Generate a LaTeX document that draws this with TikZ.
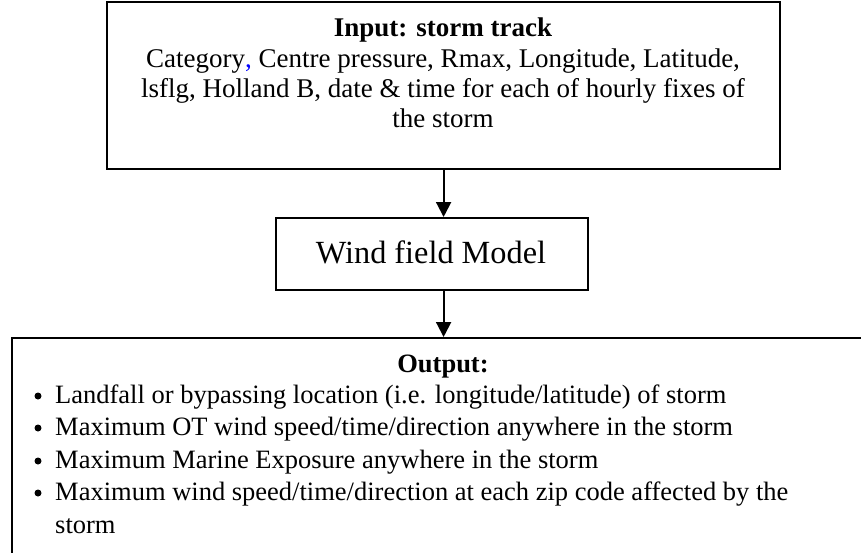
\documentclass[tikz,border=0pt]{standalone}
\usepackage{fontspec}
\setmainfont{Liberation Serif}
\usetikzlibrary{arrows.meta}
\begin{document}
\begin{tikzpicture}[x=1pt,y=-1pt,
  box/.style={draw, line width=2.2pt, inner sep=0pt, anchor=north west},
  txt/.style={font=\fontsize{27}{30}\selectfont, inner sep=0pt, anchor=base},
  btxt/.style={font=\fontsize{26.5}{30}\selectfont, inner sep=0pt, anchor=base west},
  dot/.style={circle, fill, inner sep=0pt, minimum size=7pt},
  conn/.style={line width=2pt, -{Triangle[width=15pt,length=15pt]}}]
\useasboundingbox (0,0) rectangle (861,552);
\clip (0,0) rectangle (861,552);
% boxes
\node[box, minimum width=673pt, minimum height=167pt] (in) at (106,1) {};
\node[box, minimum width=312pt, minimum height=72pt] (mid) at (275,217) {};
\node[box, minimum width=900pt, minimum height=300pt] (out) at (11,337) {};
% top text
\node[txt, font=\fontsize{27}{30}\selectfont\bfseries] (t0) at (443,36) {Input: storm track};
\node[txt] (t1) at (443,67) {Category{\color{blue},} Centre pressure, Rmax, Longitude, Latitude,};
\node[txt] (t2) at (443,97) {lsflg, Holland B, date \& time for each of hourly fixes of};
\node[txt] (t3) at (443,127) {the storm};
% middle text
\node[txt, font=\fontsize{32.3}{36}\selectfont] (m0) at (431,263) {Wind field Model};
% bottom text
\node[txt, font=\fontsize{26.5}{30}\selectfont\bfseries] (o0) at (443,372) {Output:};
\node[dot] (b1) at (38,396) {};
\node[btxt] (l1) at (55,403) {Landfall or bypassing location (i.e. longitude/latitude) of storm};
\node[dot] (b2) at (38,428) {};
\node[btxt] (l2) at (55,435) {Maximum OT wind speed/time/direction anywhere in the storm};
\node[dot] (b3) at (38,461) {};
\node[btxt] (l3) at (55,468) {Maximum Marine Exposure anywhere in the storm};
\node[dot] (b4) at (38,493) {};
\node[btxt] (l4) at (55,500) {Maximum wind speed/time/direction at each zip code affected by the};
\node[btxt] (l5) at (55,533) {storm};
% connectors
\draw[conn] (in.south) -- (in.south |- mid.north);
\draw[conn] (in.south |- mid.south) -- (in.south |- out.north);
\end{tikzpicture}
\end{document}
